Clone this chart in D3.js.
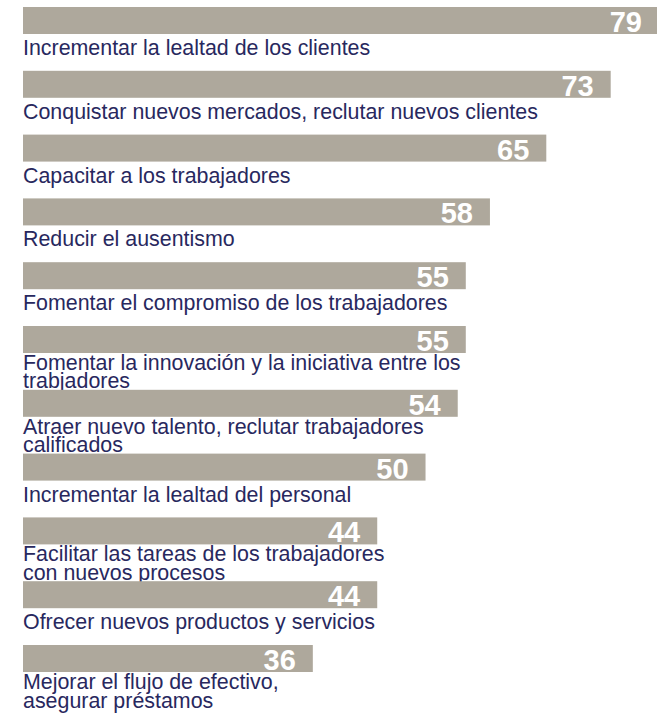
<!DOCTYPE html>
<html>
<head>
<meta charset="utf-8">
<script src="https://cdn.jsdelivr.net/npm/d3@7"></script>
<style>
	html, body { margin: 0; padding: 0; background: #fff; }
	svg { display: block; }
</style>
</head>
<body>
<div class="chart"></div>
<script>
// =================================================
// data
// =================================================
var categories = [
	["Incrementar la lealtad de los clientes"],
	["Conquistar nuevos mercados, reclutar nuevos clientes"],
	["Capacitar a los trabajadores"],
	["Reducir el ausentismo"],
	["Fomentar el compromiso de los trabajadores"],
	["Fomentar la innovación y la iniciativa entre los", "trabjadores"],
	["Atraer nuevo talento, reclutar trabajadores", "calificados"],
	["Incrementar la lealtad del personal"],
	["Facilitar las tareas de los trabajadores", "con nuevos procesos"],
	["Ofrecer nuevos productos y servicios"],
	["Mejorar el flujo de efectivo,", "asegurar préstamos"]
];
var values = [79, 73, 65, 58, 55, 55, 54, 50, 44, 44, 36];

(function() {
	var width = 657,
		height = 718;

	var x = d3.scaleLinear()
		.domain([0, 79])
		.range([23, 659]);

	var y = d3.scaleBand()
		.domain(d3.range(values.length))
		.range([7, 672])
		.paddingInner(0.577)
		.paddingOuter(0);

	var svg = d3.select(".chart").append("svg")
		.attr("width", width)
		.attr("height", height);

	var g = svg.selectAll("g.row")
		.data(values)
		.enter().append("g")
		.attr("class", "row");

	// bars
	g.append("rect")
		.attr("x", x(0))
		.attr("y", function(d, i) { return y(i); })
		.attr("width", function(d) { return x(d) - x(0); })
		.attr("height", y.bandwidth())
		.style("fill", "#aea89c");

	// values inside the bars
	g.append("text")
		.attr("x", function(d) { return x(d) - 17; })
		.attr("y", function(d, i) { return y(i) + y.bandwidth() - 2; })
		.attr("text-anchor", "end")
		.style("font-family", "'Liberation Sans', Arial, sans-serif")
		.style("font-weight", "bold")
		.style("font-size", "29px")
		.style("fill", "#fff")
		.text(function(d) { return d; });

	// category labels under the bars, two-line ones sit a bit higher
	var label = g.append("text")
		.attr("x", x(0))
		.attr("y", function(d, i) {
			return y(i) + y.bandwidth() + (categories[i].length > 1 ? 17 : 21);
		})
		.style("font-family", "'Liberation Sans', Arial, sans-serif")
		.style("font-size", "21.4px")
		.style("fill", "#28285e");

	label.selectAll("tspan")
		.data(function(d, i) { return categories[i]; })
		.enter().append("tspan")
		.attr("x", x(0))
		.attr("dy", function(d, j) { return j ? 18.5 : 0; })
		.text(function(d) { return d; });
})();
</script>
</body>
</html>
